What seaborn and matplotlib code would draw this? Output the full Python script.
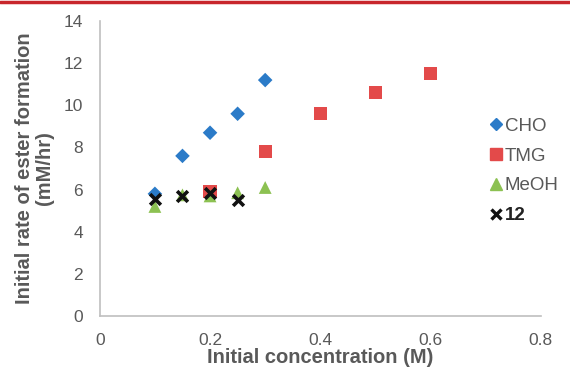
import matplotlib
matplotlib.use('Agg')
import matplotlib.pyplot as plt
import seaborn as sns
import pandas as pd
from matplotlib.lines import Line2D

# values
cho_x = [0.1, 0.15, 0.2, 0.25, 0.3]
cho_y = [5.8, 7.6, 8.7, 9.6, 11.2]
tmg_x = [0.2, 0.3, 0.4, 0.5, 0.6]
tmg_y = [5.9, 7.8, 9.6, 10.6, 11.5]
meoh_x = [0.1, 0.15, 0.2, 0.25, 0.3]
meoh_y = [5.2, 5.75, 5.7, 5.85, 6.1]
c12_x = [0.1, 0.15, 0.2, 0.25]
c12_y = [5.55, 5.7, 5.85, 5.5]

series = ['CHO', 'TMG', 'MeOH', '12']
colors = {'CHO': '#2B7BC8', 'TMG': '#E34A4A', 'MeOH': '#8CC152', '12': '#111111'}
markers = {'CHO': 'D', 'TMG': 's', 'MeOH': '^', '12': 'X'}
sizes = {'CHO': 55, 'TMG': 90, 'MeOH': 85, '12': 90}

df = pd.concat([
    pd.DataFrame({'x': cho_x, 'y': cho_y, 'series': 'CHO'}),
    pd.DataFrame({'x': tmg_x, 'y': tmg_y, 'series': 'TMG'}),
    pd.DataFrame({'x': meoh_x, 'y': meoh_y, 'series': 'MeOH'}),
    pd.DataFrame({'x': c12_x, 'y': c12_y, 'series': '12'}),
])

sns.set_style('white')
plt.rcParams['font.family'] = ['Liberation Sans', 'DejaVu Sans']

fig = plt.figure(figsize=(5.7, 3.7), dpi=100)
ax = fig.add_axes([0.175, 0.146, 0.774, 0.797])

for s in series:
    sub = df[df['series'] == s]
    m = markers[s]
    if s == '12':
        ax.scatter(sub['x'], sub['y'], marker='x', s=60, color=colors[s],
                   linewidths=2.6, zorder=5, label=s)
    else:
        sns.scatterplot(data=sub, x='x', y='y', marker=m, s=sizes[s],
                        color=colors[s], edgecolor='none', ax=ax, label=s, zorder=3)

ax.set_xlim(0, 0.8)
ax.set_ylim(0, 14)
ax.set_xticks([0, 0.2, 0.4, 0.6, 0.8])
ax.set_xticklabels(['0', '0.2', '0.4', '0.6', '0.8'])
ax.set_yticks(range(0, 15, 2))
ax.tick_params(axis='both', labelsize=12.5, colors='#595959', length=0)
ax.tick_params(axis='y', pad=12)
ax.tick_params(axis='x', pad=12)
for sp in ['top', 'right']:
    ax.spines[sp].set_visible(False)
for sp in ['left', 'bottom']:
    ax.spines[sp].set_color('#BFBFBF')
    ax.spines[sp].set_linewidth(1.2)

ax.set_xlabel('Initial concentration (M)', fontsize=14.5, fontweight='bold',
              color='#595959', labelpad=0)
ax.set_ylabel('Initial rate of ester formation\n(mM/hr)', fontsize=14.5,
              fontweight='bold', color='#595959', labelpad=7, linespacing=1.05)

handles = [
    Line2D([], [], marker='D', color=colors['CHO'], linestyle='', markersize=6),
    Line2D([], [], marker='s', color=colors['TMG'], linestyle='', markersize=8),
    Line2D([], [], marker='^', color=colors['MeOH'], linestyle='', markersize=8),
    Line2D([], [], marker='x', color=colors['12'], linestyle='', markersize=7, markeredgewidth=2.4),
]
leg = ax.legend(handles, series, loc='upper left', bbox_to_anchor=(0.83, 0.728),
                bbox_transform=fig.transFigure, frameon=False, fontsize=13.5,
                handlelength=0.6, handletextpad=0.2, labelspacing=0.68)
for t in leg.get_texts():
    t.set_color('#595959')
leg.get_texts()[3].set_color('#222222')
leg.get_texts()[3].set_fontweight('bold')

# thin red rule along the top edge
fig.add_artist(Line2D([0, 1], [0.995, 0.995], transform=fig.transFigure,
                      color='#C8262C', linewidth=2.5))

fig.savefig('out.png', dpi=100)
